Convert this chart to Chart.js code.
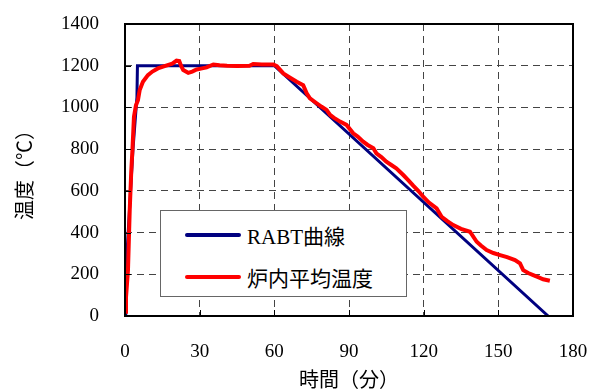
<!DOCTYPE html>
<html>
<head>
<meta charset="utf-8">
<script src="https://cdn.jsdelivr.net/npm/chart.js@4"></script>
<style>
    html, body { margin: 0; padding: 0; background: #fff; }
    #wrap { position: relative; width: 592px; height: 391px; }
    #legend {
        position: absolute; left: 160px; top: 210px; width: 245px; height: 85px;
        border: 1px solid #666; background: #fff;
        font-family: "Liberation Serif", "Noto Sans CJK JP", serif; font-size: 21px; color: #000;
    }
    .row { position: absolute; left: 24px; height: 24px; display: flex; align-items: center; }
    .swatch { width: 56px; height: 4px; margin-right: 6px; border-radius: 2px; }
</style>
</head>
<body>
<div id="wrap">
    <canvas id="tempChart" width="592" height="391"></canvas>
    <div id="legend"></div>
</div>
<script>
// RABT曲線
const rabtTime = [0, 0.3, 2, 3.2, 4.8, 5, 60, 170];
const rabtTemp = [0, 200, 550, 800, 1050, 1200, 1200, 0];

// 炉内平均温度
const furnaceTime = [0, 0.4, 1.2, 1.9, 2.5, 3.0, 3.6, 4.4, 5.2, 5.9, 7.2, 9.2, 11, 13.2, 16.5, 19, 20.7, 21.8, 22.5, 23.4, 25.4, 27, 28.8, 30.5,
    32.8, 35.5, 38, 41, 45, 50, 51.5, 55, 59.6, 61, 63.6, 66, 69, 71.6, 73, 74.3, 77, 79, 81, 82.4, 84, 86.4, 89, 91.7, 93.5,
    95.7, 97.5, 99.8, 101, 103, 105, 107, 109, 111.8, 113.5, 115.8, 118, 119.8, 122, 125.2, 127.2, 129.5, 131.9, 135, 138.6,
    141.3, 143, 145.3, 148, 150.7, 153.5, 156.7, 158.7, 160, 162, 164, 166, 168, 170.7];
const furnaceTemp = [20, 90, 220, 508, 690, 800, 955, 1010, 1035, 1083, 1123, 1155, 1172, 1187, 1200, 1210, 1224, 1222, 1200, 1179, 1166, 1172, 1182, 1186,
    1192, 1206, 1202, 1200, 1199, 1200, 1208, 1206, 1206, 1198, 1163, 1145, 1123, 1107, 1068, 1044, 1020, 1003, 988, 964, 950, 932, 916, 876, 860,
    836, 820, 804, 780, 762, 740, 724, 708, 676, 655, 625, 598, 572, 545, 516, 476, 455, 436, 418, 404,
    356, 338, 316, 302, 292, 282, 268, 252, 220, 206, 196, 186, 176, 169];

const xTicks = [0, 30, 60, 90, 120, 150, 180];
const yTicks = [0, 200, 400, 600, 800, 1000, 1200, 1400];

const seriesNames = ["RABT曲線", "炉内平均温度"];
const seriesColors = ["#000080", "#ff0000"];

const toPoints = (xs, ys) => xs.map((x, i) => ({ x, y: ys[i] }));

const serif = "'Liberation Serif', 'Noto Sans CJK JP', serif";

// frame + inward tick marks
const framePlugin = {
    id: "frame",
    afterDraw(chart) {
        const { ctx, chartArea: a, scales } = chart;
        ctx.save();
        ctx.strokeStyle = "#000";
        ctx.lineWidth = 1;
        xTicks.forEach(v => {
            const px = Math.round(scales.x.getPixelForValue(v)) + 0.5;
            ctx.beginPath(); ctx.moveTo(px, a.bottom); ctx.lineTo(px, a.bottom - 6); ctx.stroke();
        });
        yTicks.forEach(v => {
            const py = Math.round(scales.y.getPixelForValue(v)) + 0.5;
            ctx.beginPath(); ctx.moveTo(a.left, py); ctx.lineTo(a.left + 6, py); ctx.stroke();
        });
        ctx.lineWidth = 2;
        ctx.strokeRect(a.left, a.top, a.right - a.left, a.bottom - a.top);
        ctx.restore();
    }
};

new Chart(document.getElementById("tempChart"), {
    type: "line",
    data: {
        datasets: [
            {
                label: seriesNames[0],
                data: toPoints(rabtTime, rabtTemp),
                borderColor: seriesColors[0],
                borderWidth: 3,
                pointRadius: 0,
                tension: 0,
                order: 1
            },
            {
                label: seriesNames[1],
                data: toPoints(furnaceTime, furnaceTemp),
                borderColor: seriesColors[1],
                borderWidth: 4,
                pointRadius: 0,
                tension: 0,
                order: 0
            }
        ]
    },
    options: {
        responsive: false,
        animation: false,
        layout: { padding: { top: 24, right: 19, left: 0, bottom: 0 } },
        plugins: { legend: { display: false }, tooltip: { enabled: false } },
        scales: {
            x: {
                type: "linear",
                min: 0, max: 180,
                afterBuildTicks: s => { s.ticks = xTicks.map(v => ({ value: v })); },
                afterFit: s => { s.height = 75; s.paddingLeft = 0; s.paddingRight = 0; },
                ticks: { color: "#000", padding: 25, maxRotation: 0, font: { family: serif, size: 19 },
                    callback: v => String(v) },
                grid: { color: "#444", lineWidth: 1, drawTicks: false },
                border: { display: false, dash: [7, 5] },
                title: {
                    display: true, text: "時間（分）", color: "#000",
                    font: { family: serif, size: 20 }, padding: { top: 0, bottom: -3 }
                }
            },
            y: {
                min: 0, max: 1400,
                afterBuildTicks: s => { s.ticks = yTicks.map(v => ({ value: v })); },
                afterFit: s => { s.width = 125; s.paddingTop = 0; s.paddingBottom = 0; },
                ticks: { color: "#000", padding: 26, font: { family: serif, size: 19 },
                    callback: v => String(v) },
                grid: { color: "#444", lineWidth: 1, drawTicks: false },
                border: { display: false, dash: [7, 5] },
                title: {
                    display: true, text: "温度（℃）", color: "#000",
                    font: { family: serif, size: 20 }, padding: { top: 15, bottom: 0 }
                }
            }
        }
    },
    plugins: [framePlugin]
});

// legend box inside the plot
const legend = document.getElementById("legend");
seriesNames.forEach((name, i) => {
    const row = document.createElement("div");
    row.className = "row";
    row.style.top = (i === 0 ? 12 : 54) + "px";
    row.innerHTML = `<div class="swatch" style="background:${seriesColors[i]}"></div><span>${name}</span>`;
    legend.appendChild(row);
});
</script>
</body>
</html>
